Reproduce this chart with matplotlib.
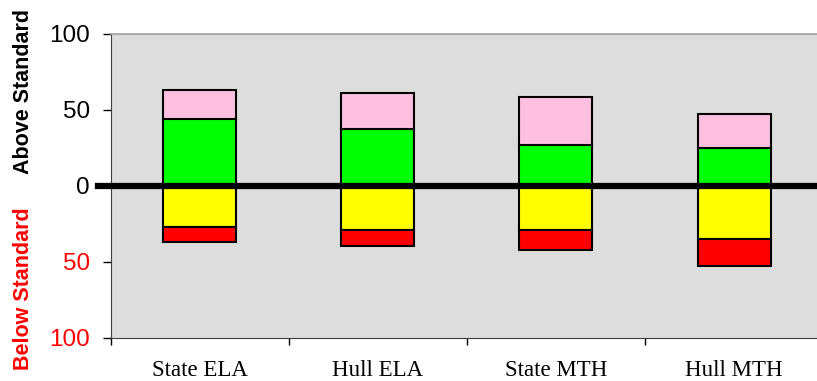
import matplotlib.pyplot as plt
import numpy as np

# percent of students per subgroup, above and below the standard
categories = ['State ELA', 'Hull ELA', 'State MTH', 'Hull MTH']
above_green = [44, 37, 27, 25]
above_pink = [19, 24, 31, 22]
below_yellow = [27, 29, 29, 35]
below_red = [10, 11, 13, 18]

x = np.arange(len(categories))
width = 0.41

fig = plt.figure(figsize=(8.17, 3.81), dpi=100)
ax = fig.add_axes([0.1355, 0.1137, 0.872, 0.798])
ax.set_facecolor('#dddddd')

edge = dict(edgecolor='black', linewidth=1.5)
ax.bar(x, above_green, width, color='#00ff00', **edge)
ax.bar(x, above_pink, width, bottom=above_green, color='#ffc0df', **edge)
neg_yellow = -np.array(below_yellow)
ax.bar(x, neg_yellow, width, color='#ffff00', **edge)
ax.bar(x, -np.array(below_red), width, bottom=neg_yellow, color='#ff0000', **edge)

# thick zero line, running out past the left spine
ax.plot([-0.57, 3.6], [0, 0], color='black', linewidth=4.5, clip_on=False, zorder=5)

ax.set_xlim(-0.5, 3.5)
ax.set_ylim(-100, 100)

# y ticks: above standard in black, below standard in red
ax.set_yticks([100, 50, 0, -50, -100])
ax.set_yticklabels(['100', '50', '0', '50', '100'], fontsize=17.5, family='Liberation Sans')
for lbl, c in zip(ax.get_yticklabels(), ['black', 'black', 'black', 'red', 'red']):
    lbl.set_color(c)
ax.tick_params(axis='y', length=6, width=1, pad=9)

# boundaries get the tick marks, category names sit between them
ax.set_xticks(np.arange(-0.5, 4.0, 1.0))
ax.set_xticklabels([])
ax.tick_params(axis='x', length=5, width=1)
ax.set_xticks(x, minor=True)
ax.set_xticklabels(categories, minor=True, fontsize=16.5, family='Liberation Serif')
ax.tick_params(axis='x', which='minor', length=0, pad=16)

ax.spines['top'].set_color('#a0a0a0')
ax.spines['top'].set_linewidth(1.2)
ax.spines['right'].set_visible(False)
ax.spines['left'].set_color('#404040')
ax.spines['bottom'].set_color('#404040')

fig.text(0.029, 0.76, 'Above Standard', rotation=90, ha='center', va='center',
         fontsize=15.5, fontweight='bold', family='Liberation Sans', color='black')
fig.text(0.029, 0.243, 'Below Standard', rotation=90, ha='center', va='center',
         fontsize=15.5, fontweight='bold', family='Liberation Sans', color='red')

plt.savefig('out.png', dpi=100)
